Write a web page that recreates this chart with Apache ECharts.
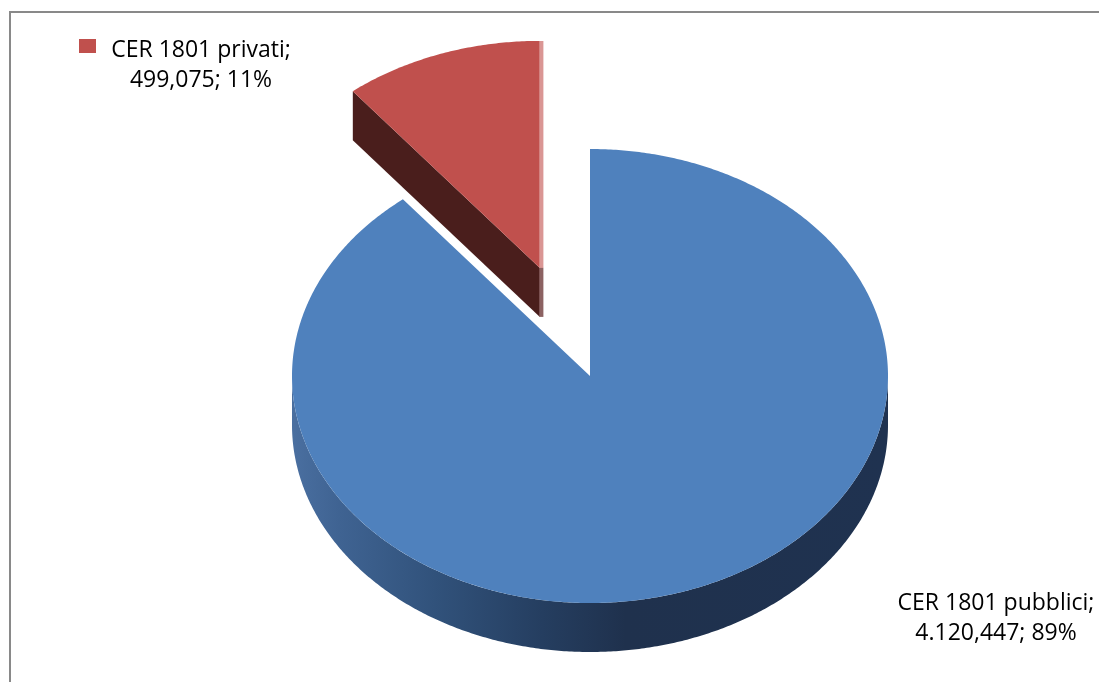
<!DOCTYPE html>
<html>
<head>
<meta charset="utf-8">
<script src="https://cdn.jsdelivr.net/npm/echarts@6/dist/echarts.min.js"></script>
<style>
  html, body { margin: 0; padding: 0; background: #ffffff; }
  #chart { width: 1099px; height: 682px; }
</style>
</head>
<body>
<div id="chart"></div>
<script>
// Waste quantities by origin (CER 1801)
const categories = ['CER 1801 pubblici', 'CER 1801 privati'];
const values = [4120.447, 499.075];
const explodeFraction = [0, 0.505];

// Styling per slice
const topColors = ['#4F81BD', '#C0504D'];
const sideColors = [
  new echarts.graphic.LinearGradient(0, 0, 1, 0, [
    { offset: 0.00, color: '#4A6FA0' },
    { offset: 0.08, color: '#3F6392' },
    { offset: 0.24, color: '#31527B' },
    { offset: 0.42, color: '#253E60' },
    { offset: 0.56, color: '#1F314D' },
    { offset: 1.00, color: '#1F3250' }
  ]),
  '#4A1E1C'
];
const edgeColors = [['#6F97C9', '#4A6A92'], ['#DA9694', '#8C6262']];

// 3D pie geometry (pixels)
const geo = { cx: 590, cy: 376, rx: 298, ry: 227, depth: 49 };

// Label placement: centre of each two-line label
const labelLayout = [
  { x: 996, y: 618, key: false },
  { x: 201, y: 65, key: true }
];
const labelFont = '23px "Open Sans"';
const labelLineHeight = 30;

const total = values.reduce((a, b) => a + b, 0);

function fmtIt(v) {
  const parts = v.toFixed(3).split('.');
  return parts[0].replace(/\B(?=(\d{3})+(?!\d))/g, '.') + ',' + parts[1];
}

function pt(deg, ox, oy, dz) {
  const r = deg * Math.PI / 180;
  return [ox + geo.rx * Math.sin(r), oy - geo.ry * Math.cos(r) + (dz || 0)];
}

function arc(a0, a1, ox, oy, dz) {
  const n = Math.max(2, Math.ceil(Math.abs(a1 - a0) / 0.5) + 1);
  const out = [];
  for (let k = 0; k < n; k++) out.push(pt(a0 + (a1 - a0) * k / (n - 1), ox, oy, dz));
  return out;
}

function renderSlice(params, api) {
  const i = params.dataIndex;
  let start = 0;
  for (let k = 0; k < i; k++) start += values[k] / total * 360;
  const end = start + api.value(0) / total * 360;
  const mid = (start + end) / 2 * Math.PI / 180;
  const e = explodeFraction[i];
  const ox = geo.cx + e * geo.rx * Math.sin(mid);
  const oy = geo.cy - e * geo.ry * Math.cos(mid);
  const d = geo.depth;
  const children = [];

  // outer wall, front half only (90..270 degrees clockwise from top)
  const lo = Math.max(start, 90), hi = Math.min(end, 270);
  if (hi > lo) {
    const pts = arc(lo, hi, ox, oy, 0).concat(arc(hi, lo, ox, oy, d));
    children.push({ type: 'polygon', shape: { points: pts }, style: { fill: sideColors[i] }, z2: 1 });
  }
  // cut faces facing the viewer
  const apex = [ox, oy], apexB = [ox, oy + d];
  const sS = Math.sin(start * Math.PI / 180), sE = Math.sin(end * Math.PI / 180);
  if (sS < -1e-6) {
    const p = pt(start, ox, oy, 0), pb = pt(start, ox, oy, d);
    children.push({ type: 'polygon', shape: { points: [apex, p, pb, apexB] }, style: { fill: sideColors[i] }, z2: 1 });
  }
  if (sE > 1e-6) {
    const p = pt(end, ox, oy, 0), pb = pt(end, ox, oy, d);
    children.push({ type: 'polygon', shape: { points: [apex, p, pb, apexB] }, style: { fill: sideColors[i] }, z2: 1 });
  }
  // top face
  const topPts = [apex].concat(arc(start, end, ox, oy, 0));
  children.push({ type: 'polygon', shape: { points: topPts }, style: { fill: topColors[i] }, z2: 2 });

  // edge-on cut face of an exploded slice shows as a thin light strip
  if (e > 0 && Math.abs(sE) < 1e-6) {
    const p = pt(end, ox, oy, 0);
    children.push({ type: 'line', shape: { x1: ox + 1.5, y1: p[1], x2: ox + 1.5, y2: oy }, style: { stroke: edgeColors[i][0], lineWidth: 4 }, z2: 3 });
    children.push({ type: 'line', shape: { x1: ox + 1.5, y1: oy, x2: ox + 1.5, y2: oy + d }, style: { stroke: edgeColors[i][1], lineWidth: 4 }, z2: 3 });
  }

  // data label
  const pct = Math.round(api.value(0) / total * 100);
  const L = labelLayout[i];
  const text = categories[i] + ';\n' + fmtIt(api.value(0)) + '; ' + pct + '%';
  children.push({
    type: 'text', z2: 5,
    style: {
      text: text, x: L.x, y: L.y, fill: '#000000', font: labelFont,
      align: 'center', verticalAlign: 'middle', lineHeight: labelLineHeight
    }
  });
  if (L.key) {
    children.push({
      type: 'rect', z2: 5,
      shape: { x: L.x - 122, y: L.y - 26, width: 17, height: 14 },
      style: { fill: topColors[i] }
    });
  }
  return { type: 'group', children: children };
}

const chart = echarts.init(document.getElementById('chart'), null, { renderer: 'canvas' });
chart.setOption({
  backgroundColor: '#ffffff',
  animation: false,
  graphic: [{
    type: 'rect', z: -1,
    shape: { x: 10, y: 12, width: 1200, height: 800 },
    style: { fill: 'none', stroke: '#898989', lineWidth: 2 }
  }],
  series: [{
    type: 'custom',
    coordinateSystem: 'none',
    renderItem: renderSlice,
    data: values.map((v, i) => ({ name: categories[i], value: [v] })),
    silent: true
  }]
});
</script>
</body>
</html>
